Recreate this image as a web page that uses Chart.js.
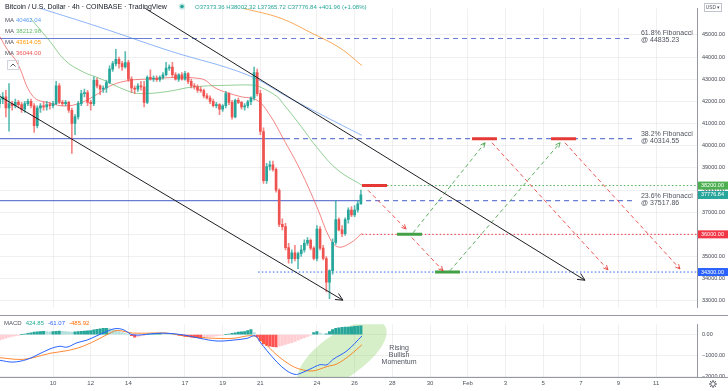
<!DOCTYPE html>
<html><head><meta charset="utf-8">
<script src="https://cdn.jsdelivr.net/npm/chart.js@4.4.1/dist/chart.umd.min.js"></script>
<style>
html,body{margin:0;padding:0;background:#fff;}
body{width:728px;height:391px;overflow:hidden;position:relative;}
canvas{position:absolute;left:0;display:block;}
#main{top:0;}
#macd{top:316px;}
</style></head><body>
<canvas id="main" width="728" height="316"></canvas>
<canvas id="macd" width="728" height="75"></canvas>
<script>
// ---------- DATA ----------
const tickDays = [10,12,14,17,19,21,24,26,28,30,32,34,36,38,40,42];
const priceTicks = [33000,34000,35000,36000,37000,38000,39000,40000,41000,42000,43000,44000,45000];
const macdTicks = [0,-1000,-2000];
const firstCandleDay = 7 + 4/24;   // Jan 7, 04:00
const candleStep = 4/24;           // 4h candles

const opens = [41900,42100,42200,41700,41900,41800,41950,41850,41650,41900,42000,41800,40900,41700,41800,41750,41850,41800,41900,42700,41950,41900,41950,41600,41000,41300,41900,42350,42400,41950,41900,42950,42700,42550,42600,42850,43450,43700,43900,43700,43550,43750,43000,42600,42550,42700,42650,41950,43080,43000,43050,42980,43080,43200,43500,43550,43200,43000,43200,43000,43250,42900,42700,42650,42500,42480,42250,42150,42000,41800,41850,41650,41800,42350,41950,41300,42050,41950,41750,41800,41980,42150,43300,42350,40640,38420,39060,39140,38930,37990,36450,36350,35400,34900,35170,34900,35130,35300,35600,35730,35380,34910,36240,35380,34910,33840,34360,35640,36670,36200,36030,36670,37090,36880,37100,37373];
const highs = [42300,42400,42500,42800,42000,42100,42050,41950,42000,42100,42100,41900,41800,41900,41950,42000,41950,42000,42900,42800,42050,42050,42000,41700,41400,42000,42500,42550,42500,42050,43100,43050,42750,42700,42950,43600,43800,44350,44000,43800,44250,43850,43100,42700,42800,42900,42900,43150,43420,43150,43150,43150,43300,43760,43650,43760,43300,43250,43300,43350,43300,43000,42800,42750,42650,42550,42350,42250,42100,41950,41900,41850,42450,42400,42050,42100,42150,42000,41900,42050,42200,43550,43450,42500,40800,39200,39300,39300,39000,38050,36700,36500,35600,35300,35500,35200,35500,35750,35850,35800,35450,36400,36350,35500,35000,34400,35800,37520,36750,36400,36750,37200,37250,37300,37500,38002];
const lows = [41700,41900,41300,40650,41600,41700,41700,41500,41500,41800,41700,40600,40800,41500,41600,41600,41650,41700,41850,41900,41800,41800,41500,39650,40500,41200,41800,42200,41800,41600,41800,42600,42300,42400,42400,42800,43350,43600,43500,43400,43500,42900,42400,42350,42450,42500,41750,41900,42950,42900,42900,42900,43000,43150,43400,43100,42950,42900,42950,42950,42800,42600,42550,42400,42400,42150,42100,41900,41750,41700,41400,41550,41700,41850,41200,41250,41900,41650,41600,41700,41850,42050,42250,40500,38300,38300,38900,38850,37900,36350,36200,35300,34700,34700,34800,34450,35000,35200,35500,35300,34850,34800,35300,34850,33400,33100,34200,35550,36150,35900,35950,36500,36800,36800,37000,37366];
const closes = [42100,42200,41700,41900,41800,41950,41850,41650,41900,42000,41800,40900,41700,41800,41750,41850,41800,41900,42700,41950,41900,41950,41600,41000,41300,41900,42350,42400,41950,41900,42950,42700,42550,42600,42850,43450,43700,43900,43700,43550,43750,43000,42600,42550,42700,42650,41950,43080,43000,43050,42980,43080,43200,43500,43550,43200,43000,43200,43000,43250,42900,42700,42650,42500,42480,42250,42150,42000,41800,41850,41650,41800,42350,41950,41300,42050,41950,41750,41800,41980,42150,43300,42350,40640,38420,39060,39140,38930,37990,36450,36350,35400,34900,35170,34900,35130,35300,35600,35730,35380,34910,36240,35380,34910,33840,34360,35640,36670,36200,36030,36670,37090,36880,37100,37373,37777];

// moving averages
const maBlueDays = [9.31,12.49,16.21,20.29,22.57,24.69,26.39];
const maBlueVals = [46200,45340,44270,43200,42140,41200,40462];
const maGreenDays = [8.78,9.84,10.64,11.59,12.49,13.93,14.62,16.05,17.43,19.55,20.61,20.98,21.88,22.2,23.1,24.01,25.07,26.39];
const maGreenVals = [45770,44700,43850,43330,43030,42480,42350,42440,42650,42730,42730,42650,42220,41900,40940,39910,38930,38213];
const maOrangeDays = [20.08,22.04,23.63,25.23,26.39];
const maOrangeVals = [46200,45760,45120,44400,43614];
const maRedDays = [7.19,7.56,8.09,8.94,9.84,10.64,11.43,12.23,13.02,13.82,14.62,17.8,18.7,19.92,20.82,21.51,22.2,23.1,24.01,24.69,25.12,25.76,26.39];
const maRedVals = [44910,44360,43760,42220,41920,41790,41920,42260,42690,42910,42990,43030,42560,42220,42050,41370,40340,38930,37220,35810,35430,35600,36044];

// Fibonacci levels
const fibLevels = [44835.23, 40314.55, 37517.86];
const fibNames = ['61.8% Fibonacci', '38.2% Fibonacci', '23.6% Fibonacci'];
const fibSolidEnd = [14.99, 22.31, 26.13];
const fibDashEnd = 40.72;
const fibTextDay = 41.19;

// target levels
const targetLevels = [38200, 36000, 34300];
const targetStart = [27.72, 26.39, 20.88];

// zones (start day, end day, price)
const sellZones = [[26.39,27.72,38200],[32.23,33.55,40314.55],[36.42,37.75,40314.55]];
const buyZones = [[28.25,29.58,36000],[30.27,31.59,34300]];

// trend lines
const trendUpper = [[14.88,46200],[38.22,33930]];
const trendLower = [[7.19,42220],[25.38,33030]];

// projected paths
const projRed = [
  [[26.71,37990],[28.73,36240]],
  [[29.04,35850],[30.69,34360]],
  [[33.29,40130],[39.44,34400]],
  [[37.16,40130],[43.26,34440]]
];
const projGreen = [
  [[29.10,36070],[32.92,40130]],
  [[31.06,34360],[36.90,40130]]
];

// MACD
const macdHist = [-250,-220,-170,-120,-90,-60,-30,0,30,60,90,120,140,150,160,150,140,150,160,170,160,150,140,130,140,150,160,170,180,200,230,260,280,300,310,290,250,200,150,100,50,0,-50,-120,-100,-60,-30,0,20,40,60,70,60,50,40,30,10,-20,-50,-80,-100,-120,-130,-140,-150,-140,-120,-100,-80,-60,-40,-20,0,30,60,90,120,140,150,200,250,100,-100,-300,-450,-520,-560,-580,-590,-560,-520,-470,-420,-380,-320,-260,-200,-140,-80,-20,100,150,80,20,40,150,250,300,330,350,360,370,380,400,410,425];
const macdLineDays = [7.19,7.88,8.62,9.15,9.84,10.37,10.74,11.27,11.8,12.33,12.86,13.29,13.71,14.24,15.15,15.84,16.9,17.8,18.7,19.55,20.29,20.72,20.98,21.35,21.88,22.41,22.84,23.1,23.63,24.16,24.54,24.85,25.6,26.39];
const macdLineVals = [-1237,-1322,-1195,-983,-686,-559,-602,-390,-263,-51,161,288,246,-8,34,76,-8,-178,-305,-263,-178,-51,-347,-771,-1322,-1746,-1915,-1873,-1661,-1449,-1449,-1195,-771,-61];
const signalDays = [7.19,8.25,8.94,9.84,10.74,11.59,12.49,13.02,13.4,14.24,15.15,16.05,16.9,17.8,18.7,19.55,20.61,21.14,21.88,22.57,23.1,23.79,24.54,25.07,25.76,26.39];
const signalVals = [-1110,-1195,-1110,-898,-771,-559,-178,76,203,76,76,76,-51,-136,-178,-178,-51,-347,-983,-1449,-1661,-1746,-1534,-1407,-983,-486];

// ---------- STYLE / HELPERS ----------
const FONT = '"Liberation Sans", Arial, sans-serif';
const GRID = 'rgba(42,46,57,0.07)';
const UP = '#26a69a', DOWN = '#ef5350';
const X_MIN = 7.188, X_MAX = 44.164;
const candleTimes = opens.map((_, i) => firstCandleDay + i * candleStep);
const pts = (days, vals) => days.map((d, i) => ({x: d, y: vals[i]}));
const seg = (pair) => pair.map(p => ({x: p[0], y: p[1]}));
function dayLabel(d) { return d <= 31 ? String(d) : (d === 32 ? 'Feb' : String(d - 31)); }
function lineDS(data, color, width, extra) {
  return Object.assign({type: 'line', data, borderColor: color, borderWidth: width,
    pointRadius: 0, fill: false, tension: 0, order: 5}, extra || {});
}

const mainDatasets = [];
mainDatasets.push({type: 'bar', data: candleTimes.map((t, i) => ({x: t, y: [opens[i], closes[i]]})),
  backgroundColor: closes.map((c, i) => c >= opens[i] ? UP : DOWN), barThickness: 2,
  grouped: false, order: 1, minBarLength: 1, borderWidth: 0});
mainDatasets.push({type: 'bar', data: candleTimes.map((t, i) => ({x: t, y: [lows[i], highs[i]]})),
  backgroundColor: closes.map((c, i) => c >= opens[i] ? 'rgba(38,166,154,0.75)' : 'rgba(239,83,80,0.7)'),
  barThickness: 1, grouped: false, order: 2, borderWidth: 0});
mainDatasets.push(lineDS(pts(maBlueDays, maBlueVals), 'rgba(66,133,244,0.6)', 1, {tension: 0.4, order: 6}));
mainDatasets.push(lineDS(pts(maGreenDays, maGreenVals), 'rgba(76,175,80,0.6)', 1, {tension: 0.4, order: 6}));
mainDatasets.push(lineDS(pts(maOrangeDays, maOrangeVals), 'rgba(245,124,0,0.65)', 1, {tension: 0.4, order: 6}));
mainDatasets.push(lineDS(pts(maRedDays, maRedVals), 'rgba(239,83,80,0.7)', 1, {tension: 0.4, order: 6}));
fibLevels.forEach((lv, i) => {
  mainDatasets.push(lineDS([{x: X_MIN, y: lv}, {x: fibSolidEnd[i], y: lv}, {x: fibDashEnd, y: lv}],
    'rgba(63,88,200,0.78)', 1.2, {order: 7, segment: {borderDash: c => c.p0DataIndex === 1 ? [5, 4] : []}}));
});
const targetColors = ['#4caf50', '#f23645', '#2962ff'];
targetLevels.forEach((lv, i) => {
  mainDatasets.push(lineDS([{x: targetStart[i], y: lv}, {x: X_MAX, y: lv}], targetColors[i], 1,
    {order: 7, borderDash: [1.5, 2.2]}));
});
sellZones.forEach(z => mainDatasets.push(lineDS([{x: z[0], y: z[2]}, {x: z[1], y: z[2]}], '#e53935', 3, {order: 3})));
buyZones.forEach(z => mainDatasets.push(lineDS([{x: z[0], y: z[2]}, {x: z[1], y: z[2]}], '#43a047', 3, {order: 3})));
[trendUpper, trendLower].forEach(t => mainDatasets.push(lineDS(seg(t), '#1e1f24', 1, {order: 0, arrowLen: 8})));
projRed.forEach(p => mainDatasets.push(lineDS(seg(p), 'rgba(229,57,53,0.85)', 1, {order: 0, borderDash: [4, 3], arrowLen: 5})));
projGreen.forEach(p => mainDatasets.push(lineDS(seg(p), 'rgba(67,160,71,0.85)', 1, {order: 0, borderDash: [4, 3], arrowLen: 5})));

function txt(ctx, s, x, y, size, color, align) {
  ctx.font = size + 'px ' + FONT; ctx.fillStyle = color;
  ctx.textAlign = align || 'left'; ctx.textBaseline = 'middle'; ctx.fillText(s, x, y);
  return ctx.measureText(s).width;
}

const mainOverlay = {
  id: 'mainOverlay',
  afterDatasetsDraw(chart) {
    const ctx = chart.ctx;
    chart.data.datasets.forEach((ds, i) => {
      if (!ds.arrowLen) return;
      const m = chart.getDatasetMeta(i).data;
      const a = m[m.length - 2], b = m[m.length - 1];
      const ang = Math.atan2(b.y - a.y, b.x - a.x), L = ds.arrowLen;
      ctx.save(); ctx.strokeStyle = ds.borderColor; ctx.lineWidth = 1; ctx.setLineDash([]);
      ctx.beginPath();
      ctx.moveTo(b.x - L * Math.cos(ang - 0.45), b.y - L * Math.sin(ang - 0.45));
      ctx.lineTo(b.x, b.y);
      ctx.lineTo(b.x - L * Math.cos(ang + 0.45), b.y - L * Math.sin(ang + 0.45));
      ctx.stroke(); ctx.restore();
    });
  },
  afterDraw(chart) {
    const ctx = chart.ctx, xs = chart.scales.x, ys = chart.scales.y, ca = chart.chartArea;
    ctx.save();
    // fib labels
    fibLevels.forEach((lv, i) => {
      const px = xs.getPixelForValue(fibTextDay), py = ys.getPixelForValue(lv);
      txt(ctx, fibNames[i], px, py - 5, 7, '#50535e');
      txt(ctx, '@ ' + lv.toFixed(2), px, py + 2, 7, '#50535e');
    });
    // price tags on axis
    const tags = [[38200, '#4caf50', '38200.00'], [closes[closes.length - 1] - 0.16, '#26a69a', '37776.84'],
                  [36000, '#f23645', '36000.00'], [34300, '#2962ff', '34300.00']];
    tags.forEach(t => {
      const py = ys.getPixelForValue(t[0]);
      ctx.fillStyle = t[1]; ctx.fillRect(ca.right + 1, py - 4, 30, 8);
      txt(ctx, t[2], ca.right + 4, py, 5.5, '#ffffff');
    });
    // header
    txt(ctx, 'Bitcoin / U.S. Dollar · 4h · COINBASE · TradingView', 5, 7, 7, '#131722');
    ctx.beginPath(); ctx.arc(182, 6.5, 3.2, 0, Math.PI * 2); ctx.fillStyle = 'rgba(38,166,154,0.25)'; ctx.fill();
    ctx.beginPath(); ctx.arc(182, 6.5, 1.8, 0, Math.PI * 2); ctx.fillStyle = '#26a69a'; ctx.fill();
    txt(ctx, 'O37373.36 H38002.32 L37365.72 C37776.84 +401.96 (+1.08%)', 195, 7, 6, '#26a69a');
    const maLeg = [['40462.04', '#5b9cf6'], ['38212.98', '#66bb6a'], ['43614.05', '#ff9800'], ['36044.00', '#ef5350']];
    maLeg.forEach((m, i) => {
      const y = 20 + i * 11;
      txt(ctx, 'MA', 5, y, 6, '#50535e');
      txt(ctx, m[0], 16, y, 6, m[1]);
    });
    // collapse button
    ctx.strokeStyle = '#d1d4dc'; ctx.lineWidth = 1; ctx.strokeRect(7.5, 60.5, 11, 9);
    ctx.strokeStyle = '#50535e'; ctx.beginPath(); ctx.moveTo(10.5, 66.5); ctx.lineTo(13, 64); ctx.lineTo(15.5, 66.5); ctx.stroke();
    // USD box
    ctx.strokeStyle = '#c0c3cc'; ctx.strokeRect(704.5, 3.5, 17, 8);
    txt(ctx, 'USD ▾', 713, 7.5, 4.8, '#50535e', 'center');
    // pane divider
    ctx.strokeStyle = '#9598a1'; ctx.beginPath(); ctx.moveTo(0, 315.5); ctx.lineTo(728, 315.5); ctx.stroke();
    ctx.restore();
  }
};

new Chart(document.getElementById('main'), {
  type: 'bar',
  data: {datasets: mainDatasets},
  options: {
    responsive: false, animation: false, events: [],
    layout: {padding: 0},
    plugins: {legend: {display: false}, tooltip: {enabled: false}},
    scales: {
      x: {type: 'linear', min: X_MIN, max: X_MAX, offset: false,
        afterBuildTicks: a => { a.ticks = tickDays.map(v => ({value: v})); },
        ticks: {display: false}, grid: {color: GRID, drawTicks: false, offset: false},
        border: {display: false}, afterFit: s => { s.height = 0; }},
      y: {position: 'right', min: 32691, max: 46197, beginAtZero: false,
        afterBuildTicks: a => { a.ticks = priceTicks.map(v => ({value: v})); },
        ticks: {font: {size: 5.5, family: FONT}, color: '#434651', padding: 5, callback: v => Number(v).toFixed(2)},
        grid: {color: GRID, drawTicks: false}, border: {display: true, color: '#9598a1'},
        afterFit: s => { s.width = 31; }}
    }
  },
  plugins: [mainOverlay]
});

// ---------- MACD ----------
const histColors = macdHist.map((v, i) => {
  const prev = i > 0 ? macdHist[i - 1] : v;
  if (v >= 0) return v >= prev ? '#26a69a' : '#b2dfdb';
  return v < prev ? '#ff5252' : '#ffcdd2';
});

const macdOverlay = {
  id: 'macdOverlay',
  beforeDatasetsDraw(chart) {
    const ctx = chart.ctx, xs = chart.scales.x, ys = chart.scales.y, ca = chart.chartArea;
    ctx.save();
    ctx.beginPath(); ctx.rect(ca.left, ca.top, ca.width, ca.height); ctx.clip();
    ctx.beginPath();
    ctx.ellipse(xs.getPixelForValue(25.33), ys.getPixelForValue(-983), 52, 22, -0.6, 0, Math.PI * 2);
    ctx.fillStyle = 'rgba(150,212,110,0.38)'; ctx.fill();
    ctx.restore();
  },
  afterDraw(chart) {
    const ctx = chart.ctx, xs = chart.scales.x, ys = chart.scales.y, ca = chart.chartArea;
    ctx.save();
    const cx = xs.getPixelForValue(28.36), cy = ys.getPixelForValue(-983);
    txt(ctx, 'Rising', cx, cy - 7, 7, '#50535e', 'center');
    txt(ctx, 'Bullish', cx, cy, 7, '#50535e', 'center');
    txt(ctx, 'Momentum', cx, cy + 7, 7, '#50535e', 'center');
    let x = 4;
    x += txt(ctx, 'MACD', x, 7, 6, '#50535e') + 4;
    x += txt(ctx, '424.85', x, 7, 6, '#22ab94') + 4;
    x += txt(ctx, '-61.07', x, 7, 6, '#2962ff') + 4;
    txt(ctx, '-485.92', x, 7, 6, '#ff6d00');
    ctx.strokeStyle = '#9598a1'; ctx.lineWidth = 1;
    ctx.beginPath(); ctx.moveTo(0, ca.bottom + 0.5); ctx.lineTo(728, ca.bottom + 0.5); ctx.stroke();
    // gear icon
    ctx.strokeStyle = '#50535e';
    ctx.beginPath(); ctx.arc(713, 68, 2.3, 0, Math.PI * 2); ctx.stroke();
    for (let k = 0; k < 8; k++) {
      const a = k * Math.PI / 4;
      ctx.beginPath(); ctx.moveTo(713 + 2.8 * Math.cos(a), 68 + 2.8 * Math.sin(a));
      ctx.lineTo(713 + 4 * Math.cos(a), 68 + 4 * Math.sin(a)); ctx.stroke();
    }
    ctx.restore();
  }
};

new Chart(document.getElementById('macd'), {
  type: 'bar',
  data: {datasets: [
    {type: 'bar', data: candleTimes.map((t, i) => ({x: t, y: macdHist[i]})), backgroundColor: histColors,
     barThickness: 2.4, grouped: false, order: 3, borderWidth: 0},
    lineDS(pts(macdLineDays, macdLineVals), '#2962ff', 1, {tension: 0.35, order: 1}),
    lineDS(pts(signalDays, signalVals), '#ff6d00', 1, {tension: 0.35, order: 2, borderColor: 'rgba(255,109,0,0.8)'})
  ]},
  options: {
    responsive: false, animation: false, events: [],
    layout: {padding: {top: 1}},
    plugins: {legend: {display: false}, tooltip: {enabled: false}},
    scales: {
      x: {type: 'linear', min: X_MIN, max: X_MAX, offset: false,
        afterBuildTicks: a => { a.ticks = tickDays.map(v => ({value: v})); },
        ticks: {font: {size: 6, family: FONT}, color: '#50535e', padding: 3, maxRotation: 0, autoSkip: false,
                callback: v => dayLabel(v)},
        grid: {color: GRID, drawTicks: false, offset: false}, border: {display: false},
        afterFit: s => { s.height = 14; }},
      y: {position: 'right', min: -2040, max: 500, beginAtZero: false,
        afterBuildTicks: a => { a.ticks = macdTicks.map(v => ({value: v})); },
        ticks: {font: {size: 5.5, family: FONT}, color: '#434651', padding: 5,
                callback: v => (v < 0 ? '−' : '') + Math.abs(v).toFixed(2)},
        grid: {color: GRID, drawTicks: false}, border: {display: true, color: '#9598a1'},
        afterFit: s => { s.width = 31; }}
    }
  },
  plugins: [macdOverlay]
});
</script>
</body></html>
